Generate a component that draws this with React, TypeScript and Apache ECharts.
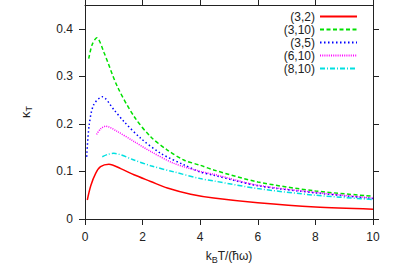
import React, { useEffect, useRef } from "react";
import * as echarts from "echarts";

const seriesNames = ["(3,2)", "(3,10)", "(3,5)", "(6,10)", "(8,10)"];
const seriesColors = ["#ff0000", "#00e000", "#0000ff", "#ff00ff", "#00e0e0"];

const x32 = [0.08, 0.2, 0.37, 0.54, 0.83, 1.24, 1.7, 2.28, 2.86, 3.67, 4.47, 6, 8, 10];
const y32 = [0.04, 0.07, 0.096, 0.11, 0.115, 0.106, 0.093, 0.079, 0.065, 0.052, 0.044, 0.034, 0.025, 0.0205];

const x310 = [0.13, 0.25, 0.41, 0.66, 1.12, 1.7, 2.28, 2.86, 3.43, 4, 4.47, 6, 8, 10];
const y310 = [0.337, 0.367, 0.381, 0.35, 0.279, 0.216, 0.173, 0.145, 0.124, 0.113, 0.103, 0.078, 0.059, 0.048];

const x35 = [0.06, 0.14, 0.3, 0.6, 1.0, 1.35, 1.93, 2.63, 3.43, 4, 4.47, 6, 8, 10];
const y35 = [0.131, 0.195, 0.24, 0.257, 0.23, 0.205, 0.17, 0.138, 0.114, 0.099, 0.092, 0.07, 0.055, 0.043];

const x610 = [0.4, 0.55, 0.72, 1.12, 1.7, 2.28, 3.09, 4, 4.47, 6, 8, 10];
const y610 = [0.178, 0.19, 0.195, 0.184, 0.163, 0.142, 0.117, 0.1, 0.094, 0.071, 0.056, 0.044];

const x810 = [0.6, 0.8, 1.0, 1.7, 2.28, 3.09, 4, 4.47, 6, 8, 10];
const y810 = [0.131, 0.136, 0.138, 0.124, 0.112, 0.099, 0.085, 0.08, 0.064, 0.05, 0.041];

const xTicks = [0, 2, 4, 6, 8, 10];
const yTicks = [0, 0.1, 0.2, 0.3, 0.4];

const seriesXs = [x32, x310, x35, x610, x810];
const seriesYs = [y32, y310, y35, y610, y810];
const dashes: (string | number[])[] = ["solid", [4, 2.5], [1.5, 2.5], [1, 1.2], [5, 2, 1, 2]];

export default function App() {
  const ref = useRef<HTMLDivElement>(null);
  useEffect(() => {
    if (!ref.current) return;
    const chart = echarts.init(ref.current, null, { renderer: "svg" });
    const font = "Liberation Sans, Arial, sans-serif";
    const axisColor = "#222";
    const baseX = {
      type: "value" as const,
      min: 0,
      max: 10,
      interval: 2,
      splitLine: { show: false },
      axisLine: { show: true, onZero: false, lineStyle: { color: axisColor, width: 1 } },
      axisTick: { show: true, length: 6, lineStyle: { color: axisColor } },
    };
    const baseY = {
      type: "value" as const,
      min: 0,
      max: 0.45,
      interval: 0.1,
      splitLine: { show: false },
      axisLine: { show: true, onZero: false, lineStyle: { color: axisColor, width: 1 } },
      axisTick: { show: true, length: 6, customValues: yTicks, lineStyle: { color: axisColor } },
    };
    chart.setOption({
      animation: false,
      backgroundColor: "#fff",
      textStyle: { fontFamily: font },
      grid: { left: 85, right: 26, top: 5, bottom: 60, containLabel: false },
      legend: {
        orient: "vertical",
        right: 41,
        top: 10,
        padding: 0,
        align: "right",
        itemWidth: 37,
        itemHeight: 10,
        itemGap: 0,
        itemStyle: { opacity: 0 },
        textStyle: { fontSize: 12, lineHeight: 13, color: "#222", fontFamily: font },
        data: seriesNames,
      },
      xAxis: [
        {
          ...baseX,
          position: "bottom",
          axisLabel: { show: true, fontSize: 12, color: "#222", margin: 12, customValues: xTicks },
          name: "{n|k}{s|B}{n|T/(ħω)}",
          nameLocation: "middle",
          nameGap: 29,
          nameTextStyle: {
            rich: {
              n: { fontSize: 12, color: "#222", fontFamily: font },
              s: { fontSize: 9, color: "#222", fontFamily: font, padding: [7, 0, 0, 0] },
            },
          },
        },
        { ...baseX, position: "top", axisLabel: { show: false } },
      ],
      yAxis: [
        {
          ...baseY,
          position: "left",
          axisLabel: { show: true, fontSize: 12, color: "#222", margin: 12, customValues: yTicks },
          name: "{n|κ}{s|T}",
          nameLocation: "middle",
          nameRotate: 90,
          nameGap: 52,
          nameTextStyle: {
            rich: {
              n: { fontSize: 13, color: "#222", fontFamily: font },
              s: { fontSize: 9, color: "#222", fontFamily: font, padding: [7, 0, 0, 0] },
            },
          },
        },
        { ...baseY, position: "right", axisLabel: { show: false } },
      ],
      series: seriesNames.map((name, i) => ({
        name,
        type: "line",
        xAxisIndex: 0,
        yAxisIndex: 0,
        smooth: 0.3,
        symbol: "none",
        showSymbol: false,
        color: seriesColors[i],
        lineStyle: { color: seriesColors[i], width: 1.5, type: dashes[i] },
        data: seriesXs[i].map((x, j) => [x, seriesYs[i][j]]),
      })),
    });
    return () => chart.dispose();
  }, []);
  return (
    <div
      ref={ref}
      style={{ position: "fixed", left: 0, top: 0, width: 399, height: 279 }}
    />
  );
}
